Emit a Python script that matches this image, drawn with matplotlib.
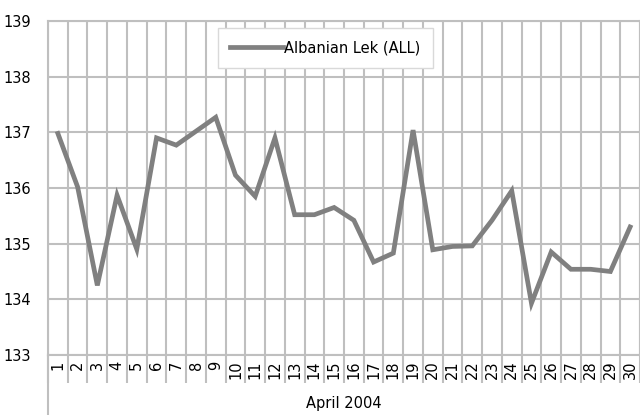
import matplotlib.pyplot as plt
from matplotlib.lines import Line2D
import numpy as np

days = list(range(1, 31))
lek = [136.98, 136.02, 134.25, 135.87, 134.9, 136.9, 136.77, 137.02, 137.27, 136.23,
       135.85, 136.9, 135.52, 135.52, 135.65, 135.42, 134.67, 134.83, 137.04, 134.89,
       134.95, 134.96, 135.42, 135.95, 133.93, 134.85, 134.54, 134.54, 134.5, 135.3]
series_name = 'Albanian Lek (ALL)'
group_label = 'April 2004'

grid_col = '#BFBFBF'

fig = plt.figure(figsize=(6.4, 4.15), dpi=100)
ax = fig.add_axes([48/640, 60/415, 592/640, 334/415])

ax.plot(days, lek, color='#808080', linewidth=3.4, label=series_name, solid_joinstyle='miter')

ax.set_xlim(0.5, 30.5)
ax.set_ylim(133, 139)
ax.set_yticks(range(133, 140))
ax.set_xticks(days)
ax.set_xticklabels([str(d) for d in days], rotation=90, fontsize=10.5)
ax.set_xticks(np.arange(0.5, 31, 1), minor=True)

ax.tick_params(axis='x', which='major', length=0, pad=4)
ax.tick_params(axis='x', which='minor', length=20, width=1.5, color=grid_col, direction='out')
ax.tick_params(axis='y', length=0, pad=12, labelsize=10.5)

ax.grid(True, which='minor', axis='x', color=grid_col, linewidth=1.5)
ax.grid(True, which='major', axis='y', color=grid_col, linewidth=1.5)
ax.set_axisbelow(True)
for s in ax.spines.values():
    s.set_color(grid_col)
    s.set_linewidth(1.5)

# left axis line continues down through the group label area
ax.add_line(Line2D([0, 0], [0, -60/334], transform=ax.transAxes, color=grid_col,
                   linewidth=1.5, clip_on=False))
ax.text(0.5, -48/334, group_label, transform=ax.transAxes, ha='center', va='center', fontsize=10.5)

leg = ax.legend(loc='upper left', bbox_to_anchor=(170/592, 1 - 7/334), fontsize=10.5,
                handlelength=3.6, handletextpad=0.1, borderpad=0.85, borderaxespad=0,
                fancybox=False, framealpha=1)
leg.get_frame().set_edgecolor('#D9D9D9')
leg.get_frame().set_linewidth(1)

fig.savefig('out.png', dpi=100)
